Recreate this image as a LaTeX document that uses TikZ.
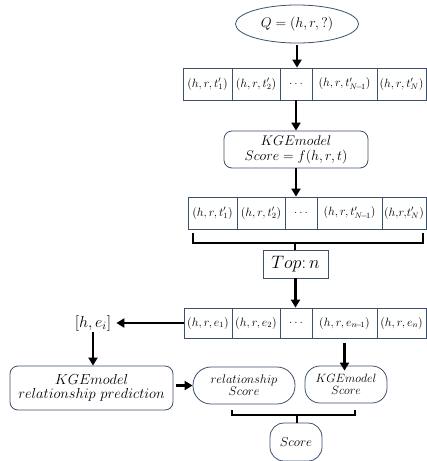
\RequirePackage{fix-cm}
\documentclass[tikz,border=0pt]{standalone}
\usetikzlibrary{arrows.meta,shapes.geometric}
\definecolor{bcol}{RGB}{62,80,108}
\begin{document}
\begin{tikzpicture}[x=1pt,y=-1pt,
  cell/.style={draw=bcol,line width=0.8pt,inner sep=0pt,minimum height=32pt,font=\fontsize{12}{14}\selectfont},
  rbox/.style={draw=bcol,line width=0.8pt,inner sep=1pt,align=center,font=\fontsize{13}{15}\selectfont},
  arr/.style={line width=2.2pt,-{Triangle[length=8pt,width=9pt]}},
  brk/.style={line width=2pt}]
\useasboundingbox (0,0) rectangle (427,461);
% query
\node[ellipse,draw=bcol,line width=0.8pt,minimum width=123pt,minimum height=38pt,inner sep=0pt,font=\fontsize{14}{16}\selectfont] (q) at (297,24) {$Q=(h,r,?)$};
% row 1
\node[cell,minimum width=49pt] (a1) at (207.5,84) {$(h,r,t_1')$};
\node[cell,minimum width=48pt] (a2) at (256,84) {$(h,r,t_2')$};
\node[cell,minimum width=32pt] (a3) at (296,84) {$\ldots$};
\node[cell,minimum width=65pt] (a4) at (344.5,84) {$(h,r,t_{N\!-\!1}')$};
\node[cell,minimum width=49pt] (a5) at (401.5,84) {$(h,r,t_N')$};
% KGE model
\node[rbox,rounded corners=8pt,minimum width=144pt,minimum height=37pt,font=\fontsize{14}{15}\selectfont] (kge) at (296,149.5) {$KGEmodel$\\[0pt]$Score=f(h,r,t)$};
% row 2
\node[cell,minimum width=49pt] (b1) at (212.5,213) {$(h,r,t_1')$};
\node[cell,minimum width=48pt] (b2) at (261,213) {$(h,r,t_2')$};
\node[cell,minimum width=32pt] (b3) at (301,213) {$\ldots$};
\node[cell,minimum width=65pt] (b4) at (349.5,213) {$(h,r,t_{N\!-\!1}')$};
\node[cell,minimum width=44pt] (b5) at (404,213) {$(h,\!r,\!t_N')$};
% top n
\node[draw=bcol,line width=0.8pt,minimum width=65pt,minimum height=28pt,inner sep=0pt,font=\fontsize{18}{20}\selectfont] (top) at (295.5,264) {$Top\colon n$};
% row 3
\node[cell,minimum width=48pt,minimum height=30pt] (c1) at (208,323) {$(h,r,e_1)$};
\node[cell,minimum width=48pt,minimum height=30pt] (c2) at (256,323) {$(h,r,e_2)$};
\node[cell,minimum width=32pt,minimum height=30pt] (c3) at (296,323) {$\ldots$};
\node[cell,minimum width=65pt,minimum height=30pt] (c4) at (344.5,323) {$(h,r,e_{n\!-\!1})$};
\node[cell,minimum width=49pt,minimum height=30pt] (c5) at (401.5,323) {$(h,r,e_n)$};
% left
\node[inner sep=1pt,font=\fontsize{16}{18}\selectfont] (hei) at (93,323) {$[h,e_i]$};
\node[rbox,rounded corners=8pt,minimum width=163pt,minimum height=44pt,font=\fontsize{14.5}{16}\selectfont] (kger) at (91.5,388) {$KGEmodel$\\[-2pt]$relationship\ prediction$};
\node[rbox,rounded corners=18pt,minimum width=102pt,minimum height=37pt,font=\fontsize{12.5}{13}\selectfont] (rels) at (244,385.5) {$relationship$\\[-1pt]$Score$};
\node[rbox,rounded corners=15pt,minimum width=82pt,minimum height=37pt,font=\fontsize{12}{12}\selectfont] (kges) at (346,384.5) {$KGEmodel$\\[0pt]$Score$};
\node[rbox,rounded corners=14pt,minimum width=52pt,minimum height=38pt,font=\fontsize{13}{14}\selectfont] (score) at (296,442) {$Score$};
% arrows
\draw[arr] ([yshift=-2pt]q.south) -- (q.south |- a3.north);
\draw[arr] (a3.south) -- (a3.south |- kge.north);
\draw[arr] (kge.south) -- (kge.south |- b3.north);
\coordinate (bl) at (193,233);
\coordinate (br) at (423,233);
\coordinate (bm) at (295,243);
\draw[brk] (bl) -- (bl |- bm) -- (br |- bm) -- (br);
\draw[brk] (bm) -- (bm |- top.north);
\draw[arr] (top.south) -- (top.south |- c3.north);
\draw[arr] (c1.west) -- ([xshift=4pt]c1.west -| hei.east);
\draw[arr] (hei.south) -- (hei.south |- kger.north);
\draw[arr] ([yshift=-5pt]c4.south) -- ([yshift=-5pt]c4.south |- kges.north);
\draw[arr,shorten <=3pt] (kger.east |- rels.west) -- (rels.west);
\coordinate (dl) at (232,410);
\coordinate (dr) at (355,410);
\coordinate (dm) at (297,415);
\draw[brk] (dl) -- (dl |- dm) -- (dr |- dm) -- (dr);
\draw[brk] (dm) -- (dm |- score.north);
\end{tikzpicture}
\end{document}
